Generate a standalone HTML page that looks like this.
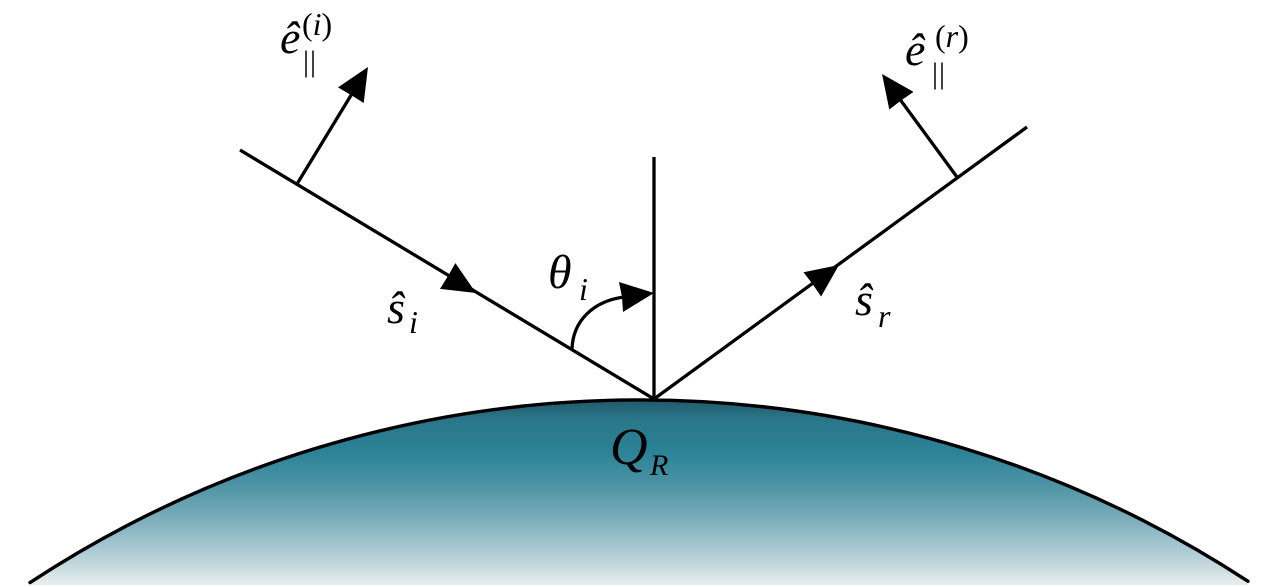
<!DOCTYPE html>
<html>
<head>
<meta charset="utf-8">
<style>
  html, body { margin: 0; padding: 0; background: #ffffff; }
  body { width: 1280px; height: 587px; overflow: hidden; }
  svg { display: block; }
  text { font-family: "Liberation Serif", "DejaVu Serif", "Noto Serif CJK SC", serif; fill: #000; }
  .m { font-style: italic; }
  .u { font-style: normal; }
</style>
</head>
<body>
<svg width="1280" height="587" viewBox="0 0 1280 587" xmlns="http://www.w3.org/2000/svg">
  <defs>
    <linearGradient id="sea" gradientUnits="userSpaceOnUse" x1="640" y1="400" x2="640" y2="586">
      <stop offset="0" stop-color="#22596a"/>
      <stop offset="0.1" stop-color="#297688"/>
      <stop offset="0.28" stop-color="#2c8296"/>
      <stop offset="0.45" stop-color="#4b93a4"/>
      <stop offset="0.65" stop-color="#7eafbc"/>
      <stop offset="0.85" stop-color="#b8d1d8"/>
      <stop offset="1" stop-color="#eaeff0"/>
    </linearGradient>
  </defs>

  <path d="M30,582.6 A1110,1110 0 0 1 1248,581.3 L1248,585 L30,585 Z" fill="url(#sea)"/>
  <path d="M30,582.6 A1110,1110 0 0 1 1248,581.3" fill="none" stroke="#000" stroke-width="3.4" stroke-linecap="round"/>

  <g stroke="#000" stroke-width="3.3" fill="none" stroke-linecap="butt">
    <line x1="240" y1="150" x2="654" y2="399"/>
    <line x1="654" y1="157" x2="654" y2="399"/>
    <line x1="654" y1="399" x2="1027" y2="127"/>
    <line x1="297" y1="184" x2="353" y2="92"/>
    <line x1="957" y1="177" x2="899" y2="98"/>
    <path d="M572,349 C573,320 594,301 624,297"/>
  </g>

  <g fill="#000" stroke="none">
    <polygon points="368,67 338,87.4 351,95 363.7,103"/>
    <polygon points="476,293 455.4,263.1 448,276 440,288.9"/>
    <polygon points="839,265 803.5,272.3 812.5,284 821.1,296.5"/>
    <polygon points="882,74 889.3,109.5 901,100.5 913.5,91.9"/>
    <polygon points="654,293 619,282 622,297 623,312"/>
  </g>

  <!-- e hat parallel (i) -->
  <text class="m" x="280" y="53" font-size="46">ê</text>
  <text class="u" x="302" y="35" font-size="32">(<tspan font-style="italic">i</tspan>)</text>
  <text class="u" x="303" y="71" font-size="30" letter-spacing="1">||</text>

  <!-- e hat parallel (r) -->
  <text class="m" x="905" y="65" font-size="46">ê</text>
  <text class="u" x="935" y="47" font-size="32">(<tspan font-style="italic">r</tspan>)</text>
  <text class="u" x="932" y="83" font-size="30" letter-spacing="1">||</text>

  <!-- s hat i -->
  <text class="m" x="387" y="323" font-size="46">ŝ</text>
  <text class="m" x="409" y="333" font-size="32">i</text>

  <!-- theta i -->
  <text class="m" x="548" y="288" font-size="48">θ</text>
  <text class="m" x="579" y="300" font-size="32">i</text>

  <!-- s hat r -->
  <text class="m" x="855" y="315" font-size="46">ŝ</text>
  <text class="m" x="878" y="327" font-size="32">r</text>

  <!-- Q_R -->
  <text class="m" x="610" y="464" font-size="52">Q</text>
  <text class="m" x="650" y="475" font-size="30">R</text>
</svg>
</body>
</html>
